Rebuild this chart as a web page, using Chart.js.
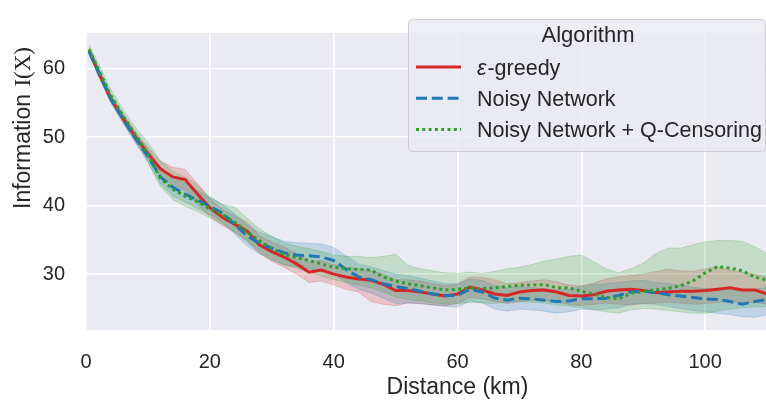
<!DOCTYPE html>
<html>
<head>
<meta charset="utf-8">
<script src="https://cdn.jsdelivr.net/npm/chart.js@4.4.1/dist/chart.umd.min.js"></script>
<style>
  html, body { margin: 0; padding: 0; background: #fff; }
  #wrap { width: 766px; height: 403px; overflow: hidden; }
  canvas { display: block; }
</style>
</head>
<body>
<div id="wrap"><canvas id="chart" width="832" height="403" style="width:832px;height:403px"></canvas></div>
<script>
// values
const distance = [0.5, 2, 4, 6, 8, 10, 12, 14, 16, 18, 20, 22, 24, 26, 28, 30, 32, 34, 36, 38,
  40, 42, 44, 46, 48, 50, 52, 54, 56, 58, 60, 62, 64, 66, 68, 70, 72, 74, 76, 78,
  80, 82, 84, 86, 88, 90, 92, 94, 96, 98, 100, 102, 104, 106, 108, 110];

const greedyMean = [62.6, 59.5, 55.6, 52.7, 50.0, 47.6, 45.4, 44.2, 43.8, 41.7,
  39.7, 38.3, 37.3, 36.3, 34.3, 33.3, 32.5, 31.5, 30.3, 30.6,
  30.0, 29.6, 29.3, 29.1, 28.5, 27.6, 27.6, 27.4, 27.1, 26.8,
  27.1, 28.1, 27.7, 27.1, 26.9, 27.4, 27.6, 27.7, 27.4, 26.9,
  26.8, 27.0, 27.5, 27.7, 27.8, 27.6, 27.3, 27.4, 27.5, 27.5,
  27.6, 27.8, 28.0, 27.7, 27.7, 27.1];
const greedyLow = [62.1, 59.0, 55.1, 52.1, 49.3, 46.8, 44.4, 43.0, 42.3, 40.2,
  38.4, 37.1, 36.1, 35.0, 33.0, 31.9, 31.0, 30.0, 28.8, 29.0,
  28.4, 27.8, 27.4, 26.0, 25.6, 25.4, 25.8, 25.7, 25.5, 25.4,
  25.7, 26.6, 26.4, 26.0, 25.7, 26.0, 26.2, 26.2, 25.9, 25.6,
  25.4, 25.6, 25.8, 25.6, 25.5, 25.7, 25.8, 25.9, 25.8, 25.6,
  25.7, 25.9, 26.0, 25.8, 25.9, 25.6];
const greedyHigh = [63.1, 60.1, 56.2, 53.4, 50.8, 48.5, 46.5, 45.6, 45.3, 43.2,
  41.0, 39.5, 38.5, 37.6, 35.6, 34.7, 34.0, 33.0, 31.8, 32.0,
  31.4, 31.0, 30.8, 30.5, 30.0, 29.2, 29.2, 29.0, 28.6, 28.3,
  28.5, 29.6, 29.5, 29.2, 28.6, 28.8, 29.0, 29.2, 28.9, 28.4,
  28.3, 28.7, 29.3, 29.6, 29.8, 30.0, 30.4, 30.7, 30.5, 30.4,
  30.8, 31.1, 30.6, 30.3, 30.0, 29.6];

const noisyMean = [62.5, 59.5, 55.6, 52.6, 49.8, 47.2, 44.2, 42.7, 41.7, 40.8,
  39.9, 38.9, 37.3, 35.6, 34.5, 33.8, 33.1, 32.8, 32.7, 32.5,
  32.0, 30.7, 29.6, 29.2, 28.6, 28.2, 27.9, 27.5, 27.1, 26.9,
  26.9, 27.8, 27.4, 26.5, 26.2, 26.5, 26.4, 26.2, 26.0, 26.1,
  26.4, 26.4, 26.5, 26.9, 27.4, 27.5, 27.3, 27.0, 26.8, 26.6,
  26.4, 26.3, 26.0, 25.6, 26.0, 26.3];
const noisyLow = [62.0, 59.0, 55.0, 52.0, 49.1, 46.4, 43.2, 41.4, 40.5, 39.6,
  38.7, 37.6, 35.9, 34.1, 33.0, 32.2, 31.4, 31.1, 30.8, 30.5,
  30.0, 28.8, 27.8, 27.3, 26.5, 25.7, 25.8, 25.7, 25.5, 25.3,
  25.2, 26.1, 25.8, 24.9, 24.6, 24.9, 24.8, 24.6, 24.3, 24.5,
  24.9, 24.8, 24.9, 25.1, 25.6, 25.7, 25.6, 25.3, 25.0, 24.7,
  24.5, 24.3, 24.1, 23.8, 23.7, 24.1];
const noisyHigh = [63.0, 60.1, 56.3, 53.3, 50.6, 48.2, 45.6, 44.2, 43.3, 42.2,
  41.2, 40.2, 38.8, 37.2, 36.1, 35.5, 34.8, 34.6, 34.5, 34.4,
  33.9, 32.7, 31.5, 31.1, 30.5, 30.0, 29.8, 29.4, 29.0, 28.6,
  28.6, 29.3, 29.1, 28.3, 28.0, 28.2, 28.0, 27.9, 27.7, 27.8,
  28.2, 28.5, 28.6, 28.8, 29.0, 29.1, 28.8, 28.6, 28.4, 28.1,
  27.9, 27.8, 27.7, 27.4, 27.8, 28.1];

const censorMean = [62.8, 59.9, 56.1, 53.1, 50.3, 47.5, 44.0, 42.4, 41.4, 40.6,
  39.5, 38.7, 37.6, 36.2, 34.9, 33.7, 32.9, 32.4, 32.0, 31.5,
  31.0, 30.8, 30.7, 30.6, 29.6, 29.0, 28.6, 28.3, 28.0, 27.7,
  27.8, 28.0, 27.9, 28.0, 28.2, 28.4, 28.4, 28.5, 28.0, 28.0,
  27.5, 27.1, 26.6, 26.4, 27.2, 27.5, 27.7, 27.9, 28.3, 29.0,
  30.2, 31.1, 30.9, 30.5, 29.6, 29.1];
const censorLow = [62.3, 59.3, 55.5, 52.4, 49.5, 46.3, 42.8, 40.9, 39.9, 39.2,
  38.2, 37.3, 36.2, 34.7, 33.3, 32.0, 31.3, 30.9, 30.3, 29.7,
  29.2, 28.8, 28.4, 28.0, 27.4, 26.7, 26.3, 26.1, 25.8, 25.6,
  25.7, 25.9, 25.8, 25.7, 25.9, 26.0, 25.9, 25.8, 25.5, 25.4,
  25.1, 24.8, 24.5, 24.3, 24.8, 25.0, 24.9, 24.7, 24.5, 24.3,
  24.3, 24.6, 24.9, 25.1, 25.2, 25.3];
const censorHigh = [63.5, 60.8, 57.0, 54.0, 51.4, 49.2, 46.6, 45.0, 44.2, 43.0,
  41.3, 40.2, 39.8, 38.2, 36.6, 35.5, 34.6, 34.1, 33.7, 33.3,
  32.8, 32.6, 32.6, 32.4, 32.6, 32.9, 31.3, 30.8, 30.5, 30.2,
  30.1, 30.3, 30.1, 30.4, 30.8, 31.0, 31.4, 31.9, 32.2, 32.6,
  32.8, 31.8, 30.8, 30.2, 30.8, 31.6, 33.0, 33.8, 33.8, 34.3,
  34.7, 34.9, 34.9, 34.8, 34.0, 33.0];

const seriesNames = ['ε-greedy', 'Noisy Network', 'Noisy Network + Q-Censoring'];
const xTicks = [0, 20, 40, 60, 80, 100];
const yTicks = [30, 40, 50, 60];

const SANS = '"Liberation Sans", Arial, sans-serif';
const TEXT = '#262626';
const RED = '#d62728', BLUE = '#1f77b4', GREEN = '#2ca02c';

function pts(ys) {
  return distance.map((x, i) => ({ x: x, y: ys[i] }));
}

function band(lo, hi, rgb, order) {
  return [
    { data: pts(lo), borderColor: `rgba(${rgb},0.22)`, borderWidth: 1, fill: false, order: order, isBand: true },
    { data: pts(hi), borderColor: `rgba(${rgb},0.22)`, borderWidth: 1, backgroundColor: `rgba(${rgb},0.2)`, fill: '-1', order: order, isBand: true }
  ];
}

function line(name, ys, color, dash, order) {
  return { label: name, data: pts(ys), borderColor: color, borderWidth: 3, borderDash: dash, borderCapStyle: 'butt', fill: false, order: order };
}

// shaded plot area
const plotBg = {
  id: 'plotBg',
  beforeDraw(chart) {
    const a = chart.chartArea, ctx = chart.ctx;
    ctx.save();
    ctx.fillStyle = '#eaeaf2';
    ctx.fillRect(a.left, a.top, a.right - a.left, a.bottom - a.top);
    ctx.restore();
  }
};

// y title with the math part in a serif face
const yTitle = {
  id: 'yTitle',
  afterDraw(chart) {
    const ctx = chart.ctx;
    ctx.save();
    ctx.translate(30, 209);
    ctx.rotate(-Math.PI / 2);
    ctx.fillStyle = TEXT;
    ctx.textBaseline = 'alphabetic';
    ctx.textAlign = 'left';
    ctx.font = '23px ' + SANS;
    const first = 'Information ';
    ctx.fillText(first, 0, 0);
    const w = ctx.measureText(first).width;
    ctx.font = '23px "Liberation Serif", "DejaVu Serif", serif';
    ctx.fillText('I(X)', w + 1, 0);
    ctx.restore();
  }
};

// legend box drawn inside the axes, like the original
const legendBox = {
  id: 'legendBox',
  afterDraw(chart) {
    const ctx = chart.ctx;
    ctx.save();
    const bx = 408.5, by = 19.5, bw = 357, bh = 132, r = 4;
    ctx.beginPath();
    ctx.roundRect(bx, by, bw, bh, r);
    ctx.fillStyle = 'rgba(234,234,242,0.8)';
    ctx.fill();
    ctx.strokeStyle = '#cccccc';
    ctx.lineWidth = 1;
    ctx.stroke();

    ctx.fillStyle = TEXT;
    ctx.font = '22px ' + SANS;
    ctx.textAlign = 'center';
    ctx.textBaseline = 'alphabetic';
    ctx.fillText('Algorithm', 588, 42);

    const items = chart.data.datasets.filter(d => !d.isBand);
    items.forEach((d, i) => {
      const y = 67 + i * 31.2;
      ctx.beginPath();
      ctx.setLineDash(d.borderDash || []);
      ctx.lineCap = 'butt';
      ctx.strokeStyle = d.borderColor;
      ctx.lineWidth = d.borderWidth;
      ctx.moveTo(416, y);
      ctx.lineTo(461, y);
      ctx.stroke();
      ctx.setLineDash([]);

      ctx.fillStyle = TEXT;
      ctx.textAlign = 'left';
      let x = 477;
      let label = d.label;
      if (label.startsWith('ε')) {
        ctx.font = 'italic 21.5px ' + SANS;
        ctx.fillText('ε', x, y + 7.5);
        x += ctx.measureText('ε').width + 1;
        label = label.slice(1);
      }
      ctx.font = '21.5px ' + SANS;
      ctx.fillText(label, x, y + 7.5);
    });
    ctx.restore();
  }
};

const datasets = [
  ...band(greedyLow, greedyHigh, '214,39,40', 6),
  ...band(noisyLow, noisyHigh, '31,119,180', 5),
  ...band(censorLow, censorHigh, '44,160,44', 4),
  line(seriesNames[0], greedyMean, RED, [], 3),
  line(seriesNames[1], noisyMean, BLUE, [11, 4.8], 2),
  line(seriesNames[2], censorMean, GREEN, [3, 3.3], 1)
];

new Chart(document.getElementById('chart'), {
  type: 'line',
  data: { datasets: datasets },
  plugins: [plotBg, yTitle, legendBox],
  options: {
    responsive: false,
    animation: false,
    layout: { padding: { top: 9, right: 3, left: 0, bottom: 0 } },
    elements: { point: { radius: 0 }, line: { tension: 0 } },
    plugins: { legend: { display: false }, tooltip: { enabled: false } },
    scales: {
      x: {
        type: 'linear',
        min: 0,
        max: 120,
        afterBuildTicks: s => { s.ticks = xTicks.map(v => ({ value: v })); },
        afterFit: s => { s.height = 73; },
        grid: { color: '#ffffff', lineWidth: 1.6, drawTicks: false },
        border: { display: false },
        ticks: { padding: 20, maxRotation: 0, autoSkip: false, color: TEXT, font: { family: SANS, size: 20 } },
        title: { display: true, text: 'Distance (km)', color: TEXT, font: { family: SANS, size: 23 }, padding: { top: 0, bottom: 2 } }
      },
      y: {
        type: 'linear',
        min: 21.85,
        max: 65.2,
        afterBuildTicks: s => { s.ticks = yTicks.map(v => ({ value: v })); },
        afterFit: s => { s.width = 86; },
        grid: { color: '#ffffff', lineWidth: 1.6, drawTicks: false },
        border: { display: false },
        ticks: { padding: 21, color: TEXT, font: { family: SANS, size: 20 } }
      }
    }
  }
});
</script>
</body>
</html>
